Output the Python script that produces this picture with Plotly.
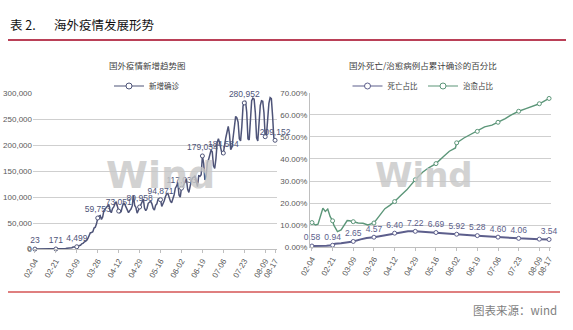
import plotly.graph_objects as go
import pandas as pd

# ---------------- data ----------------
dates = pd.date_range("2020-02-04", "2020-08-17", freq="D")

new_feb = [23, 30, 25, 60, 35, 40, 45, 20, 50, 75, 30, 65, 40, 95, 70, 60, 120, 171,
           320, 360, 380, 430, 560, 900, 1100, 1300]
new_mar = [1700, 1800, 2100, 2200, 2600, 3900, 3800, 3900, 4499, 4300, 7000, 7300, 10200,
           11000, 13500, 14800, 16500, 20500, 28000, 31500, 32000, 33500, 40500, 42000,
           48500, 59753, 63500, 64500, 57000, 61500, 74000]
new_apr = [77000, 80000, 82000, 86000, 74000, 70000, 78000, 81000, 87000, 91000, 82000,
           73051, 70000, 72000, 82000, 89000, 86000, 80000, 74000, 70000, 74000, 77000,
           83000, 103000, 84000, 80000, 69000, 75000, 80958, 86000]
new_may = [91000, 96000, 79000, 74000, 78000, 88000, 90000, 92000, 87000, 78000, 75000,
           84000, 87000, 96000, 97000, 94871, 82000, 87000, 93000, 101000, 106000, 107000,
           99000, 92000, 89000, 96000, 104000, 117000, 121000, 128000, 104000]
new_jun = [100000, 117033, 119000, 127000, 130000, 135000, 115000, 109000, 124000, 131000,
           137000, 138000, 141000, 132000, 120000, 141000, 140000, 143000, 179034, 165000,
           133000, 140000, 166000, 172000, 180000, 190000, 187000, 160000, 155000, 174000]
new_jul = [205000, 212000, 204000, 190000, 182000, 184584, 205000, 214000, 225000, 236000,
           220000, 191000, 196000, 213000, 228000, 255000, 252000, 244000, 212000, 208000,
           235000, 275000, 280952, 285000, 263000, 212000, 210000, 250000, 285000, 290000,
           288000]
new_aug = [262000, 214000, 208000, 248000, 276000, 285000, 284000, 262000, 216000, 218000,
           252000, 280000, 291000, 289000, 256000, 214000, 209152]
new_cases = new_feb + new_mar + new_apr + new_may + new_jun + new_jul + new_aug

tick_labels = ["02-04", "02-21", "03-09", "03-26", "04-12", "04-29", "05-16", "06-02",
               "06-19", "07-06", "07-23", "08-09", "08-17"]
hidden_labels = ["08-09"]

death_dates = ["02-04", "02-10", "02-16", "02-21", "02-23", "02-28", "03-04", "03-09",
               "03-15", "03-20", "03-26", "04-02", "04-07", "04-12", "04-18", "04-23",
               "04-29", "05-05", "05-10", "05-16", "06-02", "06-19", "07-06", "07-23",
               "08-09", "08-17"]
death_pct = [0.58, 0.55, 0.75, 0.94, 1.6, 1.8, 2.2, 2.65, 3.6, 4.2, 4.57, 5.3, 5.9, 6.40,
             7.0, 7.25, 7.22, 7.05, 6.9, 6.69, 5.92, 5.28, 4.60, 4.06, 3.70, 3.54]

cure_dates = ["02-04", "02-07", "02-09", "02-11", "02-13", "02-15", "02-17", "02-19",
              "02-21", "02-22", "02-25", "02-28", "03-02", "03-04", "03-06", "03-09",
              "03-13", "03-17", "03-21", "03-26", "03-31", "04-04", "04-08", "04-12",
              "04-17", "04-22", "04-29", "05-05", "05-10", "05-16", "05-22", "05-27",
              "06-01", "06-02", "06-08", "06-13", "06-19", "06-25", "07-01", "07-06",
              "07-12", "07-17", "07-23", "07-29", "08-04", "08-09", "08-13", "08-17"]
cure_pct = [11.2, 10.1, 10.5, 14.0, 17.7, 16.2, 17.3, 13.9, 12.0, 10.0, 7.1, 7.9, 10.5,
            12.1, 12.0, 11.6, 11.0, 10.9, 10.1, 11.0, 14.5, 17.5, 19.0, 20.7, 23.5, 26.0,
            30.6, 34.0, 36.0, 37.9, 41.0, 43.5, 45.0, 47.3, 49.5, 51.0, 52.5, 54.5, 55.3,
            56.6, 58.3, 60.0, 61.6, 62.8, 64.0, 65.0, 66.2, 67.4]

left_yticks = [0, 50000, 100000, 150000, 200000, 250000, 300000]

# ---------------- styles ----------------
W, H = 573, 330
NARROW = "Liberation Sans Narrow, Liberation Sans, Arial, sans-serif"
CJK = "Noto Sans CJK SC, sans-serif"
C_NEW = "#4e5478"
C_DEATH = "#5d5f8c"
C_CURE = "#5c9679"
GRID = "#cfcfcf"
TICKC = "#595959"


def px_x(p):
    return p / W


def px_y(p):
    return 1 - p / H


def full(d):
    return pd.Timestamp("2020-" + d)


tick_ts = [full(t) for t in tick_labels]

fig = go.Figure()

# ----- left chart -----
s_new = pd.Series(new_cases, index=dates)
fig.add_trace(go.Scatter(x=dates, y=new_cases, mode="lines",
                         line=dict(color=C_NEW, width=1.5), showlegend=False,
                         hoverinfo="skip", xaxis="x", yaxis="y"))
tv = [s_new[d] for d in tick_ts]
txt = ["" if t in hidden_labels else f"{v:,}" for t, v in zip(tick_labels, tv)]
fig.add_trace(go.Scatter(x=tick_ts, y=tv, mode="markers+text", text=txt,
                         textposition="top center",
                         textfont=dict(family=NARROW, size=8.5, color=C_NEW),
                         marker=dict(size=4, color="white", line=dict(color=C_NEW, width=1)),
                         showlegend=False, cliponaxis=False, hoverinfo="skip",
                         xaxis="x", yaxis="y"))
fig.add_trace(go.Scatter(x=[None], y=[None], mode="lines+markers", name="新增确诊",
                         line=dict(color=C_NEW, width=1.2),
                         marker=dict(size=6, color="white", line=dict(color=C_NEW, width=1)),
                         legend="legend", xaxis="x", yaxis="y"))

# ----- right chart -----
d_ts = [full(d) for d in death_dates]
c_ts = [full(d) for d in cure_dates]
fig.add_trace(go.Scatter(x=c_ts, y=cure_pct, mode="lines", line=dict(color=C_CURE, width=1.4),
                         showlegend=False, hoverinfo="skip", xaxis="x2", yaxis="y2"))
fig.add_trace(go.Scatter(x=d_ts, y=death_pct, mode="lines", line=dict(color=C_DEATH, width=2),
                         showlegend=False, hoverinfo="skip", xaxis="x2", yaxis="y2"))
s_d = pd.Series(death_pct, index=d_ts)
s_c = pd.Series(cure_pct, index=c_ts)
cv = [s_c[d] for d in tick_ts]
dv = [s_d[d] for d in tick_ts]
fig.add_trace(go.Scatter(x=tick_ts, y=cv, mode="markers",
                         marker=dict(size=4, color="white", line=dict(color=C_CURE, width=1)),
                         showlegend=False, cliponaxis=False, hoverinfo="skip",
                         xaxis="x2", yaxis="y2"))
dtxt = ["" if t in hidden_labels else f"{v:.2f}" for t, v in zip(tick_labels, dv)]
fig.add_trace(go.Scatter(x=tick_ts, y=dv, mode="markers+text", text=dtxt,
                         textposition="top center",
                         textfont=dict(family=NARROW, size=8.5, color=C_DEATH),
                         marker=dict(size=4, color="white", line=dict(color=C_DEATH, width=1)),
                         showlegend=False, cliponaxis=False, hoverinfo="skip",
                         xaxis="x2", yaxis="y2"))
fig.add_trace(go.Scatter(x=[None], y=[None], mode="lines+markers", name="死亡占比",
                         line=dict(color=C_DEATH, width=1.2),
                         marker=dict(size=6, color="white", line=dict(color=C_DEATH, width=1)),
                         legend="legend2", xaxis="x2", yaxis="y2"))
fig.add_trace(go.Scatter(x=[None], y=[None], mode="lines+markers", name="治愈占比",
                         line=dict(color=C_CURE, width=1.2),
                         marker=dict(size=6, color="white", line=dict(color=C_CURE, width=1)),
                         legend="legend2", xaxis="x2", yaxis="y2"))

xr = [pd.Timestamp("2020-02-02 10:00"), pd.Timestamp("2020-08-18 14:00")]
xcommon = dict(type="date", range=xr, tickvals=tick_ts, ticktext=tick_labels, tickangle=-60,
               tickfont=dict(family=NARROW, size=8, color=TICKC), ticks="outside",
               ticklen=3, tickcolor="#bfbfbf", showgrid=False, showline=True,
               linecolor="#bfbfbf", linewidth=1, zeroline=False, fixedrange=True,
               automargin=False)

fig.update_layout(
    width=W, height=H, margin=dict(l=0, r=0, t=0, b=0, autoexpand=False),
    paper_bgcolor="white", plot_bgcolor="white",
    xaxis=dict(domain=[px_x(33), px_x(277)], anchor="y", **xcommon),
    yaxis=dict(domain=[px_y(249.3), px_y(93)], anchor="x", range=[-400, 300000],
               tickmode="array", tickvals=left_yticks,
               ticktext=[f"{v:,}" for v in left_yticks],
               tickfont=dict(family=NARROW, size=8, color=TICKC),
               gridcolor=GRID, gridwidth=1, zeroline=False, showline=False, ticks="",
               fixedrange=True, automargin=False),
    xaxis2=dict(domain=[px_x(310), px_x(551)], anchor="y2", **xcommon),
    yaxis2=dict(domain=[px_y(247.3), px_y(92.7)], anchor="x2", range=[0, 70], dtick=10,
                tickformat=".2f", ticksuffix="%",
                tickfont=dict(family=NARROW, size=8, color=TICKC),
                gridcolor=GRID, gridwidth=1, zeroline=False, showline=True,
                linecolor="#bfbfbf", ticks="", fixedrange=True, automargin=False),
    legend=dict(x=px_x(147), y=px_y(86), xanchor="center", yanchor="middle",
                orientation="h", font=dict(family=CJK, size=7.5, color="#404040"),
                bgcolor="rgba(0,0,0,0)", itemwidth=30),
    legend2=dict(x=px_x(423), y=px_y(86), xanchor="center", yanchor="middle",
                 orientation="h", font=dict(family=CJK, size=7.5, color="#404040"),
                 bgcolor="rgba(0,0,0,0)", itemwidth=30),
    showlegend=True,
)

ann = [
    dict(text="表 2.", x=px_x(8), y=px_y(24), xanchor="left", yanchor="middle",
         font=dict(family=CJK, size=12.5, color="#111111")),
    dict(text="海外疫情发展形势", x=px_x(52), y=px_y(24), xanchor="left", yanchor="middle",
         font=dict(family=CJK, size=12.5, color="#111111")),
    dict(text="图表来源：wind", x=px_x(559), y=px_y(310), xanchor="right", yanchor="middle",
         font=dict(family=CJK, size=11.5, color="#7f7f7f")),
    dict(text="国外疫情新增趋势图", x=px_x(147), y=px_y(65), xanchor="center", yanchor="middle",
         font=dict(family=CJK, size=8.5, color="#404040")),
    dict(text="国外死亡/治愈病例占累计确诊的百分比", x=px_x(423), y=px_y(65), xanchor="center",
         yanchor="middle", font=dict(family=CJK, size=8.5, color="#404040")),
    dict(text="<b>Wind</b>", x=px_x(160), y=px_y(175), xanchor="center", yanchor="middle",
         font=dict(family="Liberation Sans Narrow, DejaVu Sans, sans-serif", size=38,
                   color="#c8c8c8"),
         opacity=0.8),
    dict(text="<b>Wind</b>", x=px_x(424), y=px_y(175), xanchor="center", yanchor="middle",
         font=dict(family="Liberation Sans Narrow, DejaVu Sans, sans-serif", size=34,
                   color="#c8c8c8"),
         opacity=0.8),
    # bottom tick label of the left value axis
    dict(text=f"{left_yticks[0]:,}", x=px_x(33.5), y=px_y(248.5), xanchor="right",
         yanchor="middle", font=dict(family=NARROW, size=8, color=TICKC)),
]
for a in ann:
    a.update(xref="paper", yref="paper", showarrow=False)
fig.update_layout(annotations=ann)

fig.update_layout(shapes=[
    dict(type="line", xref="paper", yref="paper", x0=px_x(8), x1=px_x(566),
         y0=px_y(40), y1=px_y(40), line=dict(color="#a3001f", width=1.5)),
    dict(type="line", xref="paper", yref="paper", x0=px_x(8), x1=px_x(560),
         y0=px_y(292), y1=px_y(292), line=dict(color="#c00000", width=1.2)),
])

fig.write_html("out.html")
